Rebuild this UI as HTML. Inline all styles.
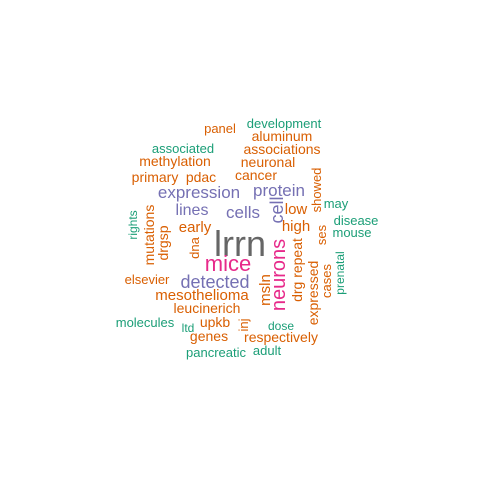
<!DOCTYPE html>
<html><head><meta charset="utf-8"><style>
html,body{margin:0;padding:0;background:#fff;width:480px;height:480px;overflow:hidden}
svg text{font-family:"Liberation Sans",sans-serif;text-anchor:middle}
</style></head><body>
<svg width="480" height="480">
<g id="words"></g>
</svg>
<script>
const words=["lrrn","mice","detected","expression","protein","cells","lines","cell","neurons","msln","drg repeat","expressed","cases","prenatal","ses","showed","low","high","may","disease","mouse","development","panel","aluminum","associated","associations","methylation","neuronal","primary","pdac","cancer","early","rights","mutations","drgsp","dna","elsevier","mesothelioma","leucinerich","molecules","ltd","upkb","inj","genes","dose","respectively","pancreatic","adult"];
const sizes=[36,22,18,17,17,17,16,18,20,15,14,14,13,12,13,13,15,15,13,13,13,13,13,14,13,14,14,14,14,14,14,15,12,14,14,13,13,15,14,13,12,14,13,14,12,14,13,13];
const C={g:"#1B9E77",o:"#D95F02",p:"#7570B3",k:"#E7298A",y:"#666666"};
const cols="ykppppppk"+"oooo"+"g"+"oooo"+"gggg"+"oo"+"g"+"ooooooo"+"g"+"oooooo"+"gg"+"ooo"+"g"+"o"+"gg";
const pos=[[240,256,0],[228,271,0],[215,288,0],[199,198,0],[279,196,0],[243,218,0],[192,215,0],[283,210,1],[285,275,1],[270,290,1],[302,270,1],[318,293,1],[331,281,1],[344,273,1],[326,235,1],[321,190,1],[296,214,0],[296,231,0],[336,208,0],[356,225,0],[352,237,0],[284,128,0],[220,133,0],[282,141,0],[183,153,0],[282,154,0],[175,166,0],[268,167,0],[155,182,0],[201,182,0],[256,180,0],[195,232,0],[137,225,1],[154,235,1],[168,243,1],[199,248,1],[147,284,0],[202,300,0],[207,313,0],[145,327,0],[188,332,0],[215,327,0],[248,325,1],[209,341,0],[281,330,0],[281,342,0],[216,357,0],[267,355,0]];
const g=document.getElementById('words');
words.forEach((w,i)=>{
 const t=document.createElementNS("http://www.w3.org/2000/svg","text");
 const [x,y,v]=pos[i];
 t.setAttribute('x',x);t.setAttribute('y',y);
 if(v)t.setAttribute('transform',`rotate(-90 ${x} ${y})`);
 t.setAttribute('font-size',sizes[i]);
 t.setAttribute('fill',C[cols[i]]);
 t.textContent=w;
 
 
 g.appendChild(t);
});
</script>
</body></html>
